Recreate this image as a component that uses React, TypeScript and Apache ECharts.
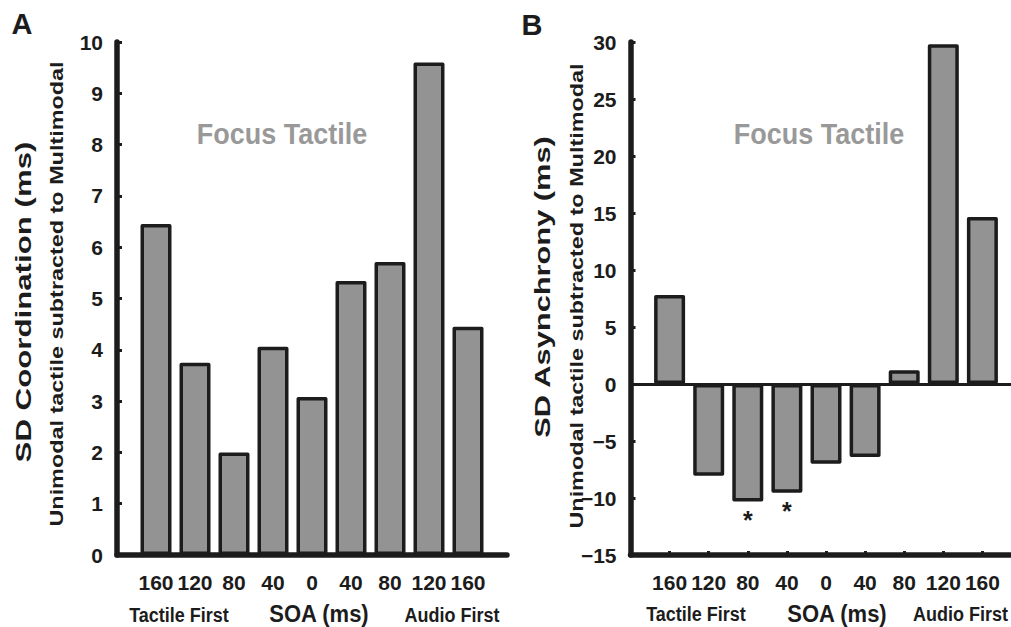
import React, { useEffect, useRef } from "react";
import * as echarts from "echarts";

const soaLabels = ["160", "120", "80", "40", "0", "40", "80", "120", "160"];
const soaPositions = [1, 2, 3, 4, 5, 6, 7, 8, 9];
const coordValues = [6.45, 3.75, 2.0, 4.06, 3.08, 5.34, 5.71, 9.6, 4.45];
const asyncValues = [7.8, -8.05, -10.3, -9.55, -7.0, -6.4, 1.2, 29.8, 14.65];
const asyncSig = ["", "", "*", "*", "", "", "", "", ""];
const coordTicks = [0, 10, 1];
const asyncTicks = [-15, 30, 5];

const FONT = '"Liberation Sans", Arial, sans-serif';
const INK = "#1c1c1c";
const BAR = "#939393";

function txt(text: string, x: number, y: number, size: number, opts: any = {}) {
  return {
    type: "text",
    x,
    y,
    rotation: opts.rotation || 0,
    scaleX: opts.scaleX || 1,
    scaleY: opts.scaleY || 1,
    silent: true,
    style: {
      text,
      fill: opts.fill || INK,
      font: `bold ${size}px ${FONT}`,
      align: opts.align || "center",
      verticalAlign: "middle",
      textAlign: opts.align || "center",
      textVerticalAlign: "middle",
    },
  };
}

export default function App() {
  const ref = useRef<HTMLDivElement>(null);
  useEffect(() => {
    if (!ref.current) return;
    const chart = echarts.init(ref.current, undefined, { renderer: "svg" });
    const xAxisBase = (gridIndex: number, max: number) => ({
      type: "value",
      gridIndex,
      min: 0,
      max,
      interval: 1,
      axisLine: { onZero: false, lineStyle: { color: INK, width: 5.5 } },
      axisTick: { show: true, inside: true, length: 4, lineStyle: { color: INK, width: 3 }, customValues: soaPositions },
      axisLabel: {
        show: true,
        customValues: soaPositions,
        formatter: (v: number) => soaLabels[Math.round(v) - 1] ?? "",
        color: INK,
        fontFamily: FONT,
        fontWeight: "bold",
        fontSize: 21,
        margin: 17,
      },
      splitLine: { show: false },
    });
    const yAxisBase = (gridIndex: number, t: number[]) => ({
      type: "value",
      gridIndex,
      min: t[0],
      max: t[1],
      interval: t[2],
      axisLine: { show: true, onZero: false, lineStyle: { color: INK, width: 5.5 } },
      axisTick: { show: true, inside: true, length: 5, lineStyle: { color: INK, width: 3 } },
      axisLabel: {
        color: INK,
        fontFamily: FONT,
        fontWeight: "bold",
        fontSize: 21,
        margin: 14,
        formatter: (v: number) => String(v).replace("-", "\u2212"),
      },
      splitLine: { show: false },
    });
    const barStyle = {
      color: BAR,
      borderColor: INK,
      borderWidth: 3.5,
      borderJoin: "round",
    };
    chart.setOption({
      animation: false,
      grid: [
        { left: 117, top: 42, width: 390, height: 513 },
        { left: 630.5, top: 42, width: 380.5, height: 513 },
      ],
      xAxis: [xAxisBase(0, 10), xAxisBase(1, 380.5 / 39.1)],
      yAxis: [yAxisBase(0, coordTicks), yAxisBase(1, asyncTicks)],
      series: [
        {
          type: "bar",
          xAxisIndex: 0,
          yAxisIndex: 0,
          barWidth: 31,
          itemStyle: barStyle,
          data: soaPositions.map((p, i) => [p, coordValues[i]]),
        },
        {
          type: "bar",
          xAxisIndex: 1,
          yAxisIndex: 1,
          barWidth: 31,
          itemStyle: barStyle,
          label: {
            show: true,
            position: "bottom",
            distance: 6,
            formatter: (p: any) => asyncSig[p.dataIndex],
            color: INK,
            fontFamily: FONT,
            fontWeight: "bold",
            fontSize: 25,
          },
          data: soaPositions.map((p, i) => [p, asyncValues[i]]),
          markLine: {
            silent: true,
            symbol: "none",
            label: { show: false },
            lineStyle: { color: INK, width: 3, type: "solid" },
            data: [{ yAxis: 0 }],
          },
        },
      ],
      graphic: [
        txt("A", 22, 24, 29),
        txt("B", 532, 25, 29),
        txt("SD Coordination (ms)", 24, 302, 22, { rotation: Math.PI / 2, scaleX: 1.42 }),
        txt("Unimodal tactile subtracted to Multimodal", 57, 294, 18, { rotation: Math.PI / 2, scaleX: 1.3 }),
        txt("SD Asynchrony (ms)", 543, 287, 22, { rotation: Math.PI / 2, scaleX: 1.4 }),
        txt("Unimodal tactile subtracted to Multimodal", 577, 296, 18, { rotation: Math.PI / 2, scaleX: 1.3 }),
        txt("Focus Tactile", 282, 133, 27, { fill: "#999999", scaleY: 1.12 }),
        txt("Focus Tactile", 819, 133, 27, { fill: "#999999", scaleY: 1.12 }),
        txt("Tactile First", 179, 615, 18, { scaleY: 1.15 }),
        txt("SOA (ms)", 319, 614, 22, { scaleY: 1.12 }),
        txt("Audio First", 452, 615, 18, { scaleY: 1.15 }),
        txt("Tactile First", 696, 614, 18, { scaleY: 1.15 }),
        txt("SOA (ms)", 837, 614, 22, { scaleY: 1.12 }),
        txt("Audio First", 913, 614, 18, { scaleY: 1.15, align: "left" }),
      ],
    });
    return () => chart.dispose();
  }, []);
  return (
    <div
      ref={ref}
      style={{ position: "absolute", left: 0, top: 0, width: 1011, height: 627, background: "#fff" }}
    />
  );
}
